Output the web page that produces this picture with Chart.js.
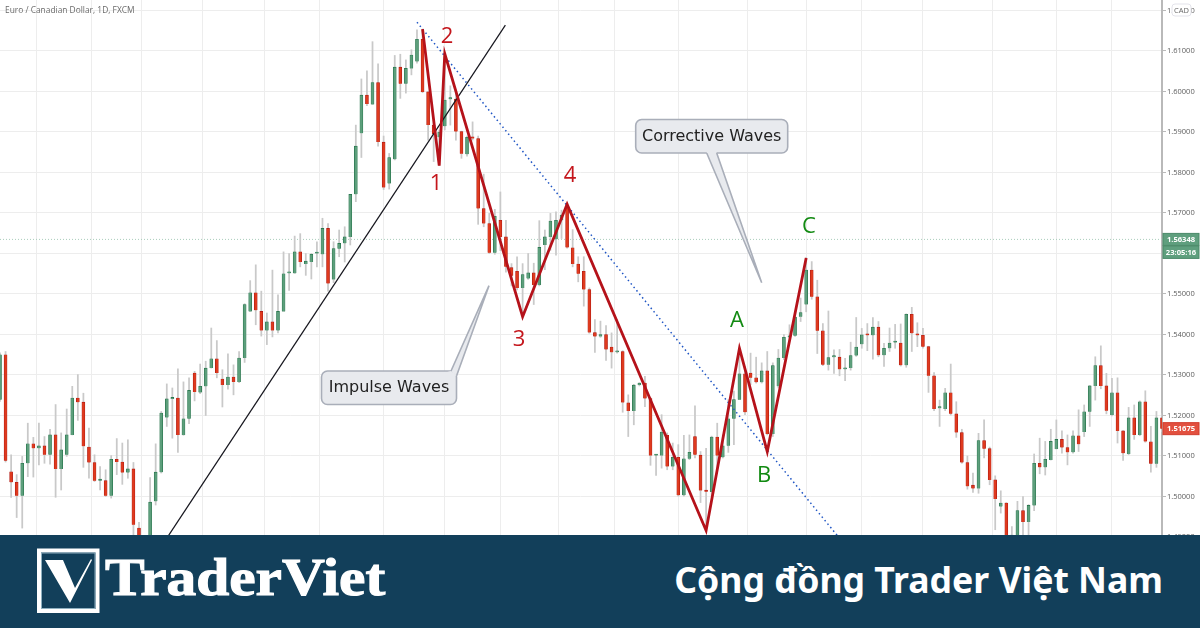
<!DOCTYPE html>
<html>
<head>
<meta charset="utf-8">
<title>EUR/CAD Impulse and Corrective Waves</title>
<script src="https://cdn.jsdelivr.net/npm/chart.js@4"></script>
<style>
  html, body { margin: 0; padding: 0; background: #fff; }
  #wrap { position: relative; width: 1200px; height: 628px; overflow: hidden; }
  #priceChart { position: absolute; left: 0; top: 0; }
  #banner { position: absolute; left: 0; top: 535px; width: 1200px; height: 93px; background: #123f5a; }
  #banner svg { position: absolute; left: 0; top: 0; }
  #brand {
    position: absolute; left: 105px; top: 12px; color: #fff;
    font: bold 53px/60px "Liberation Serif", serif; transform: scaleX(1.12); transform-origin: left center;
    -webkit-text-stroke: 1.1px #fff;
  }
  #slogan {
    position: absolute; right: 37px; top: 19px; color: #fff;
    font: bold 35.6px/50px "Noto Sans", sans-serif;
  }
</style>
</head>
<body>
<div id="wrap">
  <canvas id="priceChart" width="1200" height="628"></canvas>
  <div id="banner">
    <svg width="1200" height="93" viewBox="0 535 1200 93">
      <rect x="39" y="550.5" width="58.5" height="60.5" fill="none" stroke="#fff" stroke-width="4"/>
      <rect x="41.5" y="553" width="53.5" height="55.5" fill="none" stroke="#8fb0c0" stroke-width="1"/>
      <polygon points="45,560 63,560 75,588 91,559 92,560 70,603" fill="#fff"/>
    </svg>
    <div id="brand">TraderViet</div>
    <div id="slogan">Cộng đồng Trader Việt Nam</div>
  </div>
</div>
<script>
// daily candles, oldest first
const opens = [
  1.5239,1.5350,1.5061,1.5035,1.5002,1.5082,1.5130,1.5119,1.5125,1.5103,
  1.5152,1.5068,1.5103,1.5152,1.5243,1.5233,1.5122,1.5084,1.5039,1.5039,
  1.5002,1.5092,1.5085,1.5059,1.5068,1.4922,1.4880,1.4880,1.4988,1.5060,
  1.5195,1.5241,1.5243,1.5152,1.5192,1.5305,1.5257,1.5272,1.5317,1.5340,
  1.5290,1.5275,1.5295,1.5283,1.5342,1.5457,1.5503,1.5457,1.5410,1.5431,
  1.5410,1.5457,1.5551,1.5551,1.5604,1.5574,1.5579,1.5600,1.5598,1.5662,
  1.5536,1.5612,1.5625,1.5641,1.5746,1.5897,1.5991,1.5969,1.6022,1.5875,
  1.5773,1.5833,1.6060,1.6019,1.6057,1.6074,1.6129,1.5999,1.5917,1.5887,
  1.5915,1.5981,1.5981,1.5901,1.5845,1.5888,1.5884,1.5711,1.5674,1.5602,
  1.5682,1.5641,1.5565,1.5556,1.5515,1.5538,1.5552,1.5522,1.5621,1.5641,
  1.5635,1.5682,1.5715,1.5614,1.5574,1.5556,1.5511,1.5405,1.5395,1.5400,
  1.5369,1.5356,1.5358,1.5231,1.5211,1.5275,1.5280,1.5242,1.5101,1.5101,
  1.5151,1.5074,1.5097,1.5003,1.5093,1.5148,1.5102,1.5015,1.5011,1.5147,
  1.5097,1.5125,1.5192,1.5239,1.5303,1.5305,1.5293,1.5282,1.5310,1.5154,
  1.5272,1.5342,1.5393,1.5397,1.5444,1.5474,1.5559,1.5493,1.5409,1.5325,
  1.5344,1.5344,1.5314,1.5317,1.5348,1.5376,1.5400,1.5398,1.5418,1.5349,
  1.5366,1.5380,1.5379,1.5324,1.5450,1.5400,1.5398,1.5370,1.5298,1.5218,
  1.5216,1.5256,1.5204,1.5158,1.5084,1.5028,1.5020,1.5138,1.5118,1.5041,
  1.4975,1.4984,1.4898,1.4890,1.4965,1.4937,1.4978,1.5082,1.5072,1.5090,
  1.5117,1.5141,1.5121,1.5109,1.5150,1.5159,1.5209,1.5273,1.5323,1.5273,
  1.5201,1.5256,1.5162,1.5105,1.5194,1.5152,1.5234,1.5135,1.5081,1.5194
];
const highs = [
  1.5355,1.5358,1.5103,1.5054,1.5099,1.5181,1.5146,1.5181,1.5148,1.5166,
  1.5227,1.5157,1.5216,1.5272,1.5301,1.5255,1.5169,1.5103,1.5074,1.5066,
  1.5101,1.5143,1.5132,1.5140,1.5084,1.4936,1.4890,1.5047,1.5130,1.5210,
  1.5278,1.5268,1.5315,1.5283,1.5293,1.5309,1.5327,1.5334,1.5416,1.5385,
  1.5313,1.5352,1.5325,1.5358,1.5476,1.5533,1.5572,1.5507,1.5453,1.5559,
  1.5498,1.5604,1.5600,1.5643,1.5649,1.5600,1.5600,1.5629,1.5687,1.5674,
  1.5629,1.5658,1.5666,1.5746,1.5917,1.6031,1.6051,1.6123,1.6068,1.5890,
  1.5847,1.6089,1.6092,1.6078,1.6103,1.6152,1.6154,1.6000,1.5930,1.5905,
  1.6090,1.6014,1.6004,1.5902,1.5890,1.5925,1.5890,1.5796,1.5699,1.5709,
  1.5752,1.5682,1.5575,1.5592,1.5575,1.5600,1.5576,1.5681,1.5658,1.5699,
  1.5703,1.5707,1.5720,1.5659,1.5592,1.5592,1.5515,1.5437,1.5433,1.5422,
  1.5404,1.5437,1.5360,1.5251,1.5277,1.5281,1.5297,1.5244,1.5103,1.5202,
  1.5157,1.5132,1.5128,1.5151,1.5152,1.5224,1.5111,1.5119,1.5149,1.5181,
  1.5152,1.5239,1.5260,1.5367,1.5321,1.5354,1.5344,1.5330,1.5358,1.5330,
  1.5363,1.5400,1.5424,1.5453,1.5490,1.5590,1.5580,1.5534,1.5427,1.5458,
  1.5362,1.5363,1.5341,1.5381,1.5442,1.5415,1.5427,1.5442,1.5432,1.5378,
  1.5416,1.5425,1.5426,1.5451,1.5467,1.5429,1.5415,1.5371,1.5306,1.5238,
  1.5267,1.5327,1.5234,1.5166,1.5100,1.5058,1.5156,1.5189,1.5122,1.5051,
  1.5014,1.4985,1.4926,1.4988,1.5000,1.4980,1.5105,1.5144,1.5136,1.5166,
  1.5189,1.5162,1.5152,1.5162,1.5214,1.5226,1.5274,1.5345,1.5372,1.5304,
  1.5292,1.5293,1.5163,1.5220,1.5226,1.5236,1.5261,1.5173,1.5210,1.5205
];
const lows = [
  1.5235,1.5085,1.4998,1.4948,1.4922,1.5049,1.5048,1.5078,1.5082,1.5080,
  1.4998,1.5016,1.5099,1.5152,1.5188,1.5072,1.5045,1.5037,1.5016,1.5000,
  1.4996,1.5054,1.5030,1.5045,1.4900,1.4860,1.4850,1.4860,1.4979,1.5058,
  1.5173,1.5144,1.5109,1.5151,1.5180,1.5236,1.5254,1.5200,1.5317,1.5293,
  1.5221,1.5265,1.5251,1.5281,1.5331,1.5457,1.5424,1.5396,1.5375,1.5394,
  1.5404,1.5457,1.5509,1.5551,1.5567,1.5546,1.5537,1.5567,1.5567,1.5507,
  1.5528,1.5592,1.5579,1.5621,1.5728,1.5837,1.5965,1.5969,1.5865,1.5758,
  1.5759,1.5831,1.5983,1.5996,1.6041,1.6070,1.5997,1.5880,1.5827,1.5817,
  1.5905,1.5917,1.5880,1.5835,1.5840,1.5880,1.5672,1.5666,1.5600,1.5598,
  1.5607,1.5554,1.5520,1.5510,1.5445,1.5536,1.5474,1.5520,1.5560,1.5608,
  1.5596,1.5637,1.5613,1.5567,1.5530,1.5470,1.5403,1.5356,1.5393,1.5336,
  1.5317,1.5354,1.5208,1.5148,1.5177,1.5273,1.5222,1.5077,1.5052,1.5070,
  1.5066,1.5066,1.5001,1.5001,1.5091,1.5095,1.4985,1.4918,1.5000,1.5066,
  1.5095,1.5109,1.5128,1.5239,1.5202,1.5276,1.5280,1.5280,1.5152,1.5148,
  1.5268,1.5338,1.5391,1.5395,1.5432,1.5456,1.5487,1.5353,1.5323,1.5312,
  1.5304,1.5298,1.5286,1.5312,1.5346,1.5366,1.5360,1.5339,1.5345,1.5321,
  1.5358,1.5366,1.5322,1.5319,1.5358,1.5370,1.5366,1.5257,1.5212,1.5173,
  1.5212,1.5201,1.5146,1.5082,1.5018,1.5010,1.5008,1.5095,1.5029,1.4918,
  1.4959,1.4880,1.4880,1.4870,1.4890,1.4900,1.4965,1.5056,1.5053,1.5090,
  1.5117,1.5107,1.5078,1.5107,1.5111,1.5148,1.5173,1.5238,1.5266,1.5204,
  1.5199,1.5132,1.5089,1.5103,1.5141,1.5150,1.5134,1.5060,1.5072,1.5160
];
const closes = [
  1.5350,1.5089,1.5035,1.5002,1.5082,1.5130,1.5119,1.5125,1.5103,1.5152,
  1.5068,1.5115,1.5152,1.5243,1.5233,1.5124,1.5084,1.5039,1.5039,1.5002,
  1.5092,1.5085,1.5059,1.5068,1.4930,1.4880,1.4870,1.4986,1.5060,1.5206,
  1.5241,1.5244,1.5152,1.5192,1.5262,1.5258,1.5272,1.5317,1.5340,1.5305,
  1.5275,1.5295,1.5283,1.5342,1.5474,1.5503,1.5460,1.5410,1.5431,1.5410,
  1.5457,1.5550,1.5551,1.5604,1.5579,1.5581,1.5598,1.5600,1.5662,1.5526,
  1.5612,1.5625,1.5641,1.5746,1.5865,1.5991,1.5969,1.6022,1.5875,1.5763,
  1.5837,1.6060,1.6019,1.6057,1.6090,1.6129,1.5999,1.5917,1.5895,1.5900,
  1.5979,1.5981,1.5901,1.5846,1.5887,1.5884,1.5711,1.5674,1.5602,1.5692,
  1.5641,1.5567,1.5545,1.5515,1.5548,1.5552,1.5522,1.5615,1.5641,1.5680,
  1.5682,1.5695,1.5615,1.5574,1.5550,1.5511,1.5405,1.5395,1.5400,1.5363,
  1.5356,1.5359,1.5232,1.5211,1.5275,1.5280,1.5242,1.5101,1.5101,1.5159,
  1.5074,1.5097,1.5003,1.5093,1.5109,1.5103,1.5015,1.5012,1.5147,1.5101,
  1.5125,1.5192,1.5239,1.5303,1.5208,1.5293,1.5282,1.5310,1.5154,1.5323,
  1.5342,1.5393,1.5397,1.5443,1.5454,1.5559,1.5493,1.5409,1.5325,1.5343,
  1.5344,1.5314,1.5317,1.5348,1.5369,1.5399,1.5398,1.5418,1.5349,1.5366,
  1.5379,1.5380,1.5324,1.5450,1.5403,1.5398,1.5370,1.5298,1.5216,1.5218,
  1.5256,1.5204,1.5158,1.5084,1.5025,1.5020,1.5138,1.5118,1.5041,1.4994,
  1.4984,1.4898,1.4905,1.4965,1.4937,1.4978,1.5082,1.5072,1.5092,1.5136,
  1.5141,1.5121,1.5109,1.5150,1.5129,1.5209,1.5273,1.5323,1.5273,1.5212,
  1.5256,1.5162,1.5107,1.5194,1.5152,1.5234,1.5136,1.5081,1.5194,1.51675
];

// axis ticks
const priceTicks = [1.48,1.49,1.50,1.51,1.52,1.53,1.54,1.55,1.56,1.57,1.58,1.59,1.60,1.61,1.62];
const timeGridCandles = [1,12,21,30,43,52,63,75,85,95,106,115,129,140,150,160,172,185,195,205];

// drawn on top of the candles
const waveCandles = [76,79,80,94,102,127,133,138,145];
const wavePrices = [1.6154,1.5817,1.6093,1.5444,1.5722,1.4916,1.5366,1.5111,1.5589];
const supportCandles = [26,90.9];
const supportPrices = [1.4814,1.6164];
const resistanceCandles = [75,152];
const resistancePrices = [1.6171,1.4880];
const lastPriceCandles = [0,209];
const lastPriceValues = [1.56348,1.56348];

const askPrice = "1.56348";
const countdown = "23:05:16";
const closePrice = "1.51675";

function toPoints(xs, ys) {
  return xs.map(function(x, i) {
    return { x: x, y: ys[i] };
  });
}

function roundedPath(ctx, x, y, w, h, r) {
  ctx.moveTo(x + r, y);
  ctx.lineTo(x + w - r, y);
  ctx.arcTo(x + w, y, x + w, y + r, r);
  ctx.lineTo(x + w, y + h - r);
  ctx.arcTo(x + w, y + h, x + w - r, y + h, r);
  ctx.lineTo(x + r, y + h);
  ctx.arcTo(x, y + h, x, y + h - r, r);
  ctx.lineTo(x, y + r);
  ctx.arcTo(x, y, x + r, y, r);
}

function drawCallout(ctx, text, box, tail) {
  ctx.beginPath();
  roundedPath(ctx, box.x, box.y, box.w, box.h, 6);
  ctx.fillStyle = "#e8eaee";
  ctx.strokeStyle = "#a9aeb9";
  ctx.lineWidth = 1.6;
  ctx.fill();
  ctx.stroke();

  ctx.beginPath();
  ctx.moveTo(tail[0][0], tail[0][1]);
  ctx.lineTo(tail[1][0], tail[1][1]);
  ctx.lineTo(tail[2][0], tail[2][1]);
  ctx.fill();
  ctx.stroke();

  // hide the box edge where the tail joins
  ctx.beginPath();
  ctx.moveTo(tail[0][0], tail[0][1]);
  ctx.lineTo(tail[2][0], tail[2][1]);
  ctx.lineTo(box.x + box.w / 2, box.y + box.h / 2);
  ctx.fill();

  ctx.fillStyle = "#222";
  ctx.font = '16px "DejaVu Sans"';
  ctx.textAlign = "center";
  ctx.textBaseline = "middle";
  ctx.fillText(text, box.x + box.w / 2, box.y + box.h / 2 + 0.5);
}

function drawAxisBadge(ctx, text, top, height, fill, border) {
  ctx.fillStyle = fill;
  ctx.strokeStyle = border;
  ctx.lineWidth = 1;
  ctx.fillRect(1163, top, 36, height);
  ctx.strokeRect(1163, top, 36, height);
  ctx.fillStyle = "#fff";
  ctx.font = 'bold 7.6px "Open Sans"';
  ctx.textAlign = "center";
  ctx.textBaseline = "middle";
  ctx.fillText(text, 1181, top + height / 2 + 0.5);
}

const annotationPlugin = {
  id: "annotations",
  afterDraw: function(chart) {
    const ctx = chart.ctx;
    const yScale = chart.scales.y;
    ctx.save();

    ctx.fillStyle = "#6a6a6a";
    ctx.font = '8.4px "Open Sans"';
    ctx.textAlign = "left";
    ctx.textBaseline = "middle";
    ctx.fillText("Euro / Canadian Dollar, 1D, FXCM", 5, 11);

    const waveLabels = [
      ["1", 436, 184, "#c4161c"], ["2", 447, 37, "#c4161c"],
      ["3", 519, 340, "#c4161c"], ["4", 570, 176, "#c4161c"],
      ["A", 737, 321, "#128a12"], ["B", 764, 476, "#128a12"], ["C", 809, 227, "#128a12"]
    ];
    ctx.font = '22px "Open Sans"';
    ctx.textAlign = "center";
    waveLabels.forEach(function(label) {
      ctx.fillStyle = label[3];
      ctx.fillText(label[0], label[1], label[2]);
    });

    drawCallout(ctx, "Impulse Waves", { x: 321.5, y: 371, w: 135, h: 33.5 },
      [[451, 371], [489, 285.7], [456.5, 376]]);
    drawCallout(ctx, "Corrective Waves", { x: 635.7, y: 119.5, w: 152, h: 33.5 },
      [[706.7, 153], [761.7, 282.7], [716.7, 153]]);

    // CAD badge sits over the top tick label
    ctx.beginPath();
    roundedPath(ctx, 1172, 4, 19, 12, 3);
    ctx.fillStyle = "#fff";
    ctx.strokeStyle = "#e3e3ea";
    ctx.lineWidth = 1;
    ctx.fill();
    ctx.stroke();
    ctx.fillStyle = "#666";
    ctx.font = '7.5px "Open Sans"';
    ctx.textAlign = "center";
    ctx.textBaseline = "middle";
    ctx.fillText("CAD", 1181.5, 10.5);

    const askY = yScale.getPixelForValue(Number(askPrice));
    drawAxisBadge(ctx, askPrice, askY - 6, 12, "#5f9f7e", "#4a8a69");
    drawAxisBadge(ctx, countdown, askY + 6.5, 12.5, "#5f9f7e", "#4a8a69");
    const closeY = yScale.getPixelForValue(Number(closePrice));
    drawAxisBadge(ctx, closePrice, closeY - 6, 12, "#e2503f", "#d23c2c");

    ctx.restore();
  }
};

function createChart() {
  const wickData = lows.map(function(low, i) {
    return { x: i, y: [low, highs[i]] };
  });
  const bodyData = opens.map(function(open, i) {
    return { x: i, y: [open, closes[i]] };
  });
  const bodyFill = closes.map(function(close, i) {
    return close >= opens[i] ? "#5d9f7c" : "#df3a1e";
  });
  const bodyBorder = closes.map(function(close, i) {
    return close >= opens[i] ? "#1f6e45" : "#a81410";
  });

  const canvas = document.getElementById("priceChart");

  new Chart(canvas.getContext("2d"), {
    type: "bar",
    data: {
      datasets: [
        {
          type: "line",
          label: "Waves",
          data: toPoints(waveCandles, wavePrices),
          borderColor: "#b5121a",
          borderWidth: 2.8,
          pointRadius: 0,
          tension: 0,
          order: 0
        },
        {
          type: "line",
          label: "Support trend",
          data: toPoints(supportCandles, supportPrices),
          borderColor: "#16161e",
          borderWidth: 1.2,
          pointRadius: 0,
          order: 1
        },
        {
          type: "line",
          label: "Resistance trend",
          data: toPoints(resistanceCandles, resistancePrices),
          borderColor: "#1f55c4",
          borderWidth: 1.5,
          borderDash: [1.5, 3],
          pointRadius: 0,
          order: 1
        },
        {
          label: "Body",
          data: bodyData,
          backgroundColor: bodyFill,
          borderColor: bodyBorder,
          borderWidth: 0.6,
          barThickness: 3,
          minBarLength: 1.5,
          grouped: false,
          order: 2
        },
        {
          label: "Wick",
          data: wickData,
          backgroundColor: "#c9c9c9",
          barThickness: 1.1,
          grouped: false,
          order: 3
        },
        {
          type: "line",
          label: "Last price",
          data: toPoints(lastPriceCandles, lastPriceValues),
          borderColor: "#a9cdbb",
          borderWidth: 1,
          borderDash: [1, 2],
          pointRadius: 0,
          order: 4
        }
      ]
    },
    plugins: [annotationPlugin],
    options: {
      responsive: false,
      animation: false,
      layout: { padding: 0 },
      plugins: {
        legend: { display: false },
        title: { display: false },
        tooltip: { enabled: false }
      },
      scales: {
        x: {
          type: "linear",
          min: 0,
          max: 209,
          offset: false,
          afterBuildTicks: function(scale) {
            scale.ticks = timeGridCandles.map(function(value) {
              return { value: value };
            });
          },
          ticks: { display: false, autoSkip: false },
          border: { display: false },
          grid: { color: "#ededed", lineWidth: 1, drawTicks: false }
        },
        y: {
          position: "right",
          min: 1.46753,
          max: 1.62259,
          afterBuildTicks: function(scale) {
            scale.ticks = priceTicks.map(function(value) {
              return { value: value };
            });
          },
          afterFit: function(scale) {
            // plot must fill the canvas top to bottom
            scale.width = 38;
            scale.paddingTop = 0;
            scale.paddingBottom = 0;
          },
          ticks: {
            autoSkip: false,
            padding: 1,
            color: "#5d5d5d",
            font: { family: "Open Sans", size: 7.5 },
            callback: function(value) {
              return value.toFixed(5);
            }
          },
          border: { color: "#b9b9b9", width: 2 },
          grid: { color: "#ededed", lineWidth: 1, tickLength: 4, tickColor: "#b9b9b9" }
        }
      }
    }
  });
}

createChart();
</script>
</body>
</html>
